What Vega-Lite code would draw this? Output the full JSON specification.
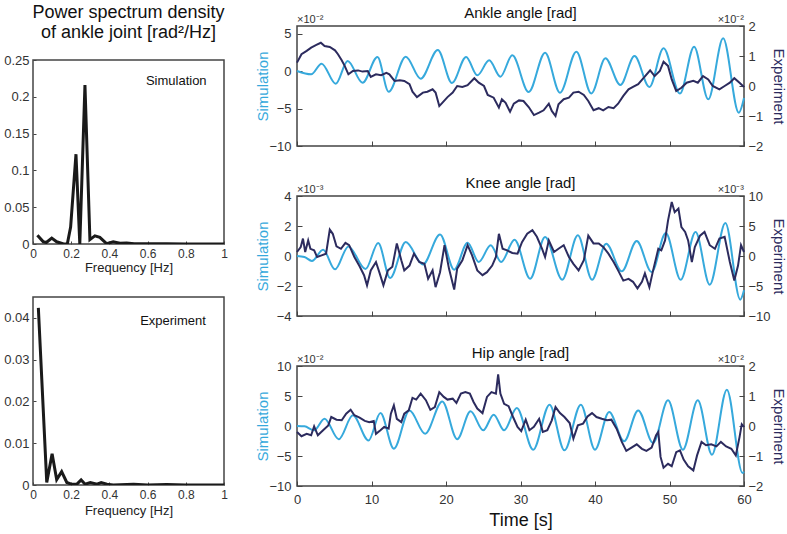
{
  "$schema": "https://vega.github.io/schema/vega-lite/v6.json",
  "padding": {"left": 2, "top": 3, "right": 2, "bottom": 2},
  "background": "white",
  "config": {
    "font": "Liberation Sans",
    "view": {"stroke": "#444444", "strokeWidth": 1.5},
    "axis": {"labelFont": "Liberation Sans", "titleFont": "Liberation Sans", "labelColor": "#333333", "titleColor": "#222222", "tickColor": "#444444", "domain": false, "grid": false, "labelFontSize": 13, "titleFontWeight": "normal", "labelOverlap": false, "labelFlush": false},
    "title": {"font": "Liberation Sans", "fontWeight": "normal", "color": "#111111"},
    "text": {"font": "Liberation Sans"}
  },
  "datasets": {
    "psd_sim": [{"f":0.023,"p":0.012},{"f":0.054,"p":0.003},{"f":0.07,"p":0.002},{"f":0.098,"p":0.008},{"f":0.124,"p":0.003},{"f":0.16,"p":0.0},{"f":0.18,"p":0.0005},{"f":0.197,"p":0.023},{"f":0.225,"p":0.122},{"f":0.245,"p":0.0},{"f":0.272,"p":0.216},{"f":0.298,"p":0.006},{"f":0.324,"p":0.011},{"f":0.35,"p":0.009},{"f":0.385,"p":0.0005},{"f":0.42,"p":0.003},{"f":0.455,"p":0.001},{"f":0.49,"p":0.0015},{"f":0.53,"p":0.0005},{"f":0.6,"p":0.0003},{"f":0.7,"p":0.0002},{"f":0.8,"p":0.0001},{"f":0.9,"p":0.0001},{"f":1.0,"p":0.0}],
    "psd_exp": [{"f":0.028,"p":0.0424},{"f":0.072,"p":0.0006},{"f":0.1,"p":0.0075},{"f":0.124,"p":0.0013},{"f":0.15,"p":0.0032},{"f":0.177,"p":0.0006},{"f":0.2,"p":0.0002},{"f":0.23,"p":0.0002},{"f":0.252,"p":0.0012},{"f":0.273,"p":0.0002},{"f":0.3,"p":0.0006},{"f":0.335,"p":0.0002},{"f":0.357,"p":0.0006},{"f":0.387,"p":0.0002},{"f":0.42,"p":0.0},{"f":0.527,"p":0.0002},{"f":0.6,"p":0.0},{"f":0.7,"p":0.0001},{"f":0.8,"p":0.0},{"f":1.0,"p":0.0}],
    "ankle_sim": [{"t":0,"v":0},{"t":1.9,"v":-0.44},{"t":3.3,"v":0.98},{"t":5.2,"v":-1.7},{"t":6.8,"v":1.33},{"t":8.8,"v":-1.56},{"t":10.8,"v":1.87},{"t":12.3,"v":-2.76},{"t":14.6,"v":1.91},{"t":16.6,"v":-1.02},{"t":18.9,"v":2.8},{"t":20.8,"v":-1.6},{"t":22.7,"v":1.87},{"t":24.2,"v":-0.58},{"t":25.8,"v":1.42},{"t":27.3,"v":-0.76},{"t":28.9,"v":2.09},{"t":31.1,"v":-2.8},{"t":33.3,"v":2.44},{"t":35.3,"v":-2.89},{"t":37.5,"v":2.58},{"t":39.5,"v":-3.0},{"t":41.4,"v":1.69},{"t":43.4,"v":-1.87},{"t":45.3,"v":2.0},{"t":47.3,"v":-2.13},{"t":49.2,"v":3.02},{"t":51.4,"v":-3.0},{"t":53.3,"v":3.24},{"t":55.2,"v":-3.78},{"t":57.2,"v":4.36},{"t":59.3,"v":-5.56},{"t":60,"v":-3.6}],
    "ankle_exp": [{"t":0,"v":0.78},{"t":0.6,"v":1.06},{"t":1.3,"v":1.17},{"t":1.9,"v":1.28},{"t":2.6,"v":1.37},{"t":3.2,"v":1.44},{"t":3.7,"v":1.33},{"t":4.4,"v":1.3},{"t":5.1,"v":1.19},{"t":5.5,"v":1.06},{"t":6.0,"v":0.86},{"t":6.4,"v":0.67},{"t":6.9,"v":0.39},{"t":7.5,"v":0.5},{"t":8.2,"v":0.52},{"t":8.8,"v":0.48},{"t":9.5,"v":0.5},{"t":9.9,"v":0.3},{"t":10.6,"v":0.39},{"t":11.3,"v":0.36},{"t":12.0,"v":0.44},{"t":12.4,"v":0.39},{"t":13.1,"v":0.17},{"t":13.8,"v":0.19},{"t":14.4,"v":0.17},{"t":15.1,"v":0.06},{"t":15.5,"v":-0.19},{"t":16.1,"v":-0.37},{"t":16.9,"v":-0.22},{"t":17.5,"v":-0.19},{"t":18.2,"v":-0.11},{"t":18.6,"v":-0.22},{"t":19.1,"v":-0.67},{"t":19.5,"v":-0.56},{"t":20.2,"v":-0.37},{"t":20.9,"v":-0.22},{"t":21.5,"v":0.0},{"t":22.2,"v":-0.03},{"t":22.9,"v":0.03},{"t":23.8,"v":0.26},{"t":24.4,"v":0.11},{"t":25.1,"v":0.0},{"t":25.6,"v":-0.3},{"t":26.4,"v":-0.39},{"t":27.1,"v":-0.72},{"t":27.5,"v":-0.44},{"t":28.0,"v":-0.56},{"t":28.6,"v":-0.86},{"t":29.1,"v":-0.59},{"t":29.8,"v":-0.48},{"t":30.4,"v":-0.5},{"t":31.1,"v":-0.7},{"t":31.8,"v":-0.97},{"t":32.5,"v":-0.89},{"t":33.1,"v":-0.81},{"t":33.8,"v":-0.59},{"t":34.2,"v":-0.83},{"t":34.7,"v":-1.0},{"t":35.1,"v":-0.61},{"t":35.8,"v":-0.44},{"t":36.5,"v":-0.39},{"t":37.1,"v":-0.22},{"t":37.8,"v":-0.19},{"t":38.5,"v":-0.3},{"t":39.1,"v":-0.5},{"t":39.8,"v":-0.81},{"t":40.5,"v":-0.74},{"t":41.1,"v":-0.81},{"t":41.8,"v":-0.7},{"t":42.5,"v":-0.74},{"t":43.1,"v":-0.59},{"t":43.8,"v":-0.33},{"t":44.5,"v":-0.11},{"t":45.1,"v":-0.03},{"t":45.8,"v":0.06},{"t":46.5,"v":0.26},{"t":47.4,"v":0.52},{"t":48.0,"v":0.33},{"t":48.7,"v":0.5},{"t":49.2,"v":0.81},{"t":49.8,"v":0.67},{"t":50.3,"v":0.22},{"t":50.9,"v":-0.17},{"t":51.6,"v":-0.06},{"t":52.3,"v":0.11},{"t":53.2,"v":0.17},{"t":53.8,"v":0.11},{"t":54.5,"v":0.33},{"t":55.2,"v":0.22},{"t":55.8,"v":0.0},{"t":56.7,"v":-0.11},{"t":57.4,"v":0.0},{"t":58.1,"v":0.11},{"t":58.7,"v":0.26},{"t":59.4,"v":0.11},{"t":60,"v":-0.03}],
    "knee_sim": [{"t":0,"v":0},{"t":1.0,"v":-0.07},{"t":2.0,"v":-0.33},{"t":3.5,"v":0.42},{"t":5.1,"v":-0.89},{"t":6.9,"v":0.64},{"t":9.2,"v":-0.87},{"t":10.9,"v":0.87},{"t":12.5,"v":-1.47},{"t":14.6,"v":0.93},{"t":16.9,"v":-0.56},{"t":19.2,"v":1.44},{"t":21.1,"v":-0.91},{"t":22.9,"v":0.89},{"t":24.4,"v":-0.4},{"t":26.0,"v":0.71},{"t":27.4,"v":-0.4},{"t":29.2,"v":1.09},{"t":31.3,"v":-1.51},{"t":33.3,"v":1.27},{"t":35.6,"v":-1.58},{"t":37.7,"v":1.38},{"t":39.6,"v":-1.58},{"t":41.5,"v":0.82},{"t":43.6,"v":-1.02},{"t":45.6,"v":1.0},{"t":47.6,"v":-1.07},{"t":49.5,"v":1.53},{"t":51.5,"v":-1.58},{"t":53.5,"v":1.6},{"t":55.4,"v":-1.91},{"t":57.5,"v":2.2},{"t":59.5,"v":-2.91},{"t":60,"v":-2.29}],
    "knee_exp": [{"t":0,"v":0.67},{"t":0.5,"v":1.5},{"t":0.8,"v":2.9},{"t":1.1,"v":0.67},{"t":1.5,"v":2.6},{"t":1.8,"v":1.2},{"t":2.3,"v":0.94},{"t":2.7,"v":-0.17},{"t":3.3,"v":0.11},{"t":3.9,"v":0.39},{"t":4.4,"v":4.4},{"t":4.8,"v":3.7},{"t":5.3,"v":1.6},{"t":5.9,"v":1.2},{"t":6.5,"v":2.2},{"t":7.0,"v":1.8},{"t":7.7,"v":-0.17},{"t":8.4,"v":-1.7},{"t":9.0,"v":-3.2},{"t":9.4,"v":-4.9},{"t":9.9,"v":-2.4},{"t":10.6,"v":-1.0},{"t":11.1,"v":-2.9},{"t":11.6,"v":-4.9},{"t":12.2,"v":-2.4},{"t":12.8,"v":-1.8},{"t":13.4,"v":2.1},{"t":14.0,"v":-0.7},{"t":14.4,"v":-2.4},{"t":15.1,"v":-1.6},{"t":15.7,"v":0.39},{"t":16.4,"v":-1.0},{"t":17.1,"v":-1.3},{"t":17.6,"v":-3.8},{"t":18.2,"v":-2.4},{"t":18.6,"v":-5.2},{"t":19.2,"v":-2.7},{"t":19.8,"v":1.8},{"t":20.4,"v":-2.1},{"t":21.1,"v":-5.6},{"t":21.5,"v":-2.1},{"t":22.2,"v":-0.7},{"t":22.9,"v":1.8},{"t":23.5,"v":0.1},{"t":24.2,"v":-2.4},{"t":24.9,"v":-3.2},{"t":25.5,"v":-2.7},{"t":26.2,"v":-1.6},{"t":26.7,"v":-0.17},{"t":27.1,"v":3.7},{"t":27.6,"v":1.2},{"t":28.2,"v":0.94},{"t":28.9,"v":0.5},{"t":29.6,"v":0.39},{"t":30.2,"v":2.3},{"t":30.9,"v":3.7},{"t":31.6,"v":4.3},{"t":32.2,"v":3.2},{"t":32.9,"v":1.2},{"t":33.3,"v":-0.17},{"t":33.8,"v":2.6},{"t":34.5,"v":0.67},{"t":35.1,"v":1.2},{"t":35.8,"v":1.8},{"t":36.5,"v":-0.17},{"t":37.1,"v":-1.3},{"t":37.8,"v":-2.4},{"t":38.5,"v":-0.7},{"t":39.1,"v":3.4},{"t":39.8,"v":2.1},{"t":40.5,"v":2.1},{"t":41.1,"v":1.5},{"t":41.8,"v":0.39},{"t":42.5,"v":-1.0},{"t":43.1,"v":-2.4},{"t":43.8,"v":-4.1},{"t":44.5,"v":-3.8},{"t":45.1,"v":-4.3},{"t":45.7,"v":-5.4},{"t":46.3,"v":-4.3},{"t":46.7,"v":-2.9},{"t":47.3,"v":-5.2},{"t":47.8,"v":-2.4},{"t":48.5,"v":1.2},{"t":48.9,"v":0.94},{"t":49.4,"v":2.6},{"t":49.8,"v":5.9},{"t":50.3,"v":9.0},{"t":50.7,"v":7.3},{"t":51.2,"v":7.9},{"t":51.6,"v":4.8},{"t":52.1,"v":4.0},{"t":52.5,"v":2.6},{"t":53.0,"v":-1.0},{"t":53.4,"v":1.5},{"t":54.1,"v":3.4},{"t":54.7,"v":4.0},{"t":55.4,"v":1.8},{"t":56.1,"v":1.2},{"t":56.7,"v":2.9},{"t":57.4,"v":3.2},{"t":58.1,"v":-1.0},{"t":58.7,"v":-4.1},{"t":59.2,"v":-1.6},{"t":59.6,"v":1.8},{"t":60,"v":0.67}],
    "hip_sim": [{"t":0,"v":0},{"t":1.0,"v":-0.06},{"t":2.3,"v":-0.72},{"t":3.7,"v":1.22},{"t":5.6,"v":-2.2},{"t":7.5,"v":1.78},{"t":9.6,"v":-2.4},{"t":11.2,"v":2.17},{"t":13.0,"v":-3.78},{"t":15.1,"v":2.6},{"t":17.2,"v":-1.28},{"t":19.5,"v":4.1},{"t":21.5,"v":-2.2},{"t":23.3,"v":2.44},{"t":25.0,"v":-0.72},{"t":26.4,"v":1.89},{"t":27.8,"v":-0.72},{"t":29.5,"v":3.0},{"t":31.7,"v":-3.94},{"t":33.9,"v":3.56},{"t":35.9,"v":-4.06},{"t":38.1,"v":3.56},{"t":40.0,"v":-3.94},{"t":41.9,"v":2.33},{"t":43.9,"v":-2.56},{"t":45.8,"v":2.6},{"t":47.8,"v":-2.83},{"t":49.8,"v":4.28},{"t":51.8,"v":-3.94},{"t":53.8,"v":4.28},{"t":55.7,"v":-4.78},{"t":57.7,"v":6.06},{"t":59.8,"v":-7.83},{"t":60,"v":-7.6}],
    "hip_exp": [{"t":0,"v":-0.2},{"t":0.6,"v":-0.34},{"t":1.3,"v":-0.26},{"t":1.9,"v":-0.31},{"t":2.3,"v":-0.01},{"t":2.8,"v":-0.31},{"t":3.5,"v":-0.14},{"t":4.2,"v":0.02},{"t":4.6,"v":0.3},{"t":5.3,"v":0.21},{"t":6.0,"v":0.19},{"t":6.6,"v":0.41},{"t":7.2,"v":0.54},{"t":7.7,"v":0.36},{"t":8.4,"v":0.28},{"t":9.1,"v":0.17},{"t":9.7,"v":0.13},{"t":10.3,"v":0.17},{"t":10.6,"v":-0.26},{"t":11.2,"v":-0.14},{"t":11.7,"v":-0.03},{"t":12.3,"v":-0.09},{"t":12.6,"v":0.41},{"t":13.0,"v":0.69},{"t":13.4,"v":0.24},{"t":14.0,"v":0.13},{"t":14.4,"v":0.41},{"t":15.0,"v":0.52},{"t":15.5,"v":0.94},{"t":16.0,"v":0.88},{"t":16.6,"v":1.08},{"t":17.3,"v":0.86},{"t":17.9,"v":0.54},{"t":18.5,"v":0.63},{"t":19.1,"v":1.13},{"t":19.7,"v":0.97},{"t":20.2,"v":0.88},{"t":20.9,"v":0.91},{"t":21.4,"v":0.77},{"t":22.0,"v":1.08},{"t":22.6,"v":1.13},{"t":23.2,"v":1.08},{"t":23.7,"v":0.8},{"t":24.2,"v":0.58},{"t":24.9,"v":0.43},{"t":25.5,"v":0.97},{"t":26.1,"v":1.13},{"t":26.7,"v":1.08},{"t":27.0,"v":1.72},{"t":27.3,"v":1.08},{"t":27.8,"v":0.74},{"t":28.4,"v":0.66},{"t":29.0,"v":0.3},{"t":29.6,"v":-0.03},{"t":30.1,"v":-0.17},{"t":30.7,"v":0.21},{"t":31.2,"v":-0.14},{"t":31.8,"v":-0.03},{"t":32.5,"v":0.24},{"t":33.0,"v":-0.2},{"t":33.6,"v":-0.14},{"t":34.2,"v":0.19},{"t":34.7,"v":0.63},{"t":35.3,"v":0.43},{"t":35.9,"v":0.3},{"t":36.6,"v":0.1},{"t":37.1,"v":-0.42},{"t":37.7,"v":0.02},{"t":38.4,"v":0.08},{"t":39.0,"v":0.32},{"t":39.6,"v":0.43},{"t":40.2,"v":0.3},{"t":40.9,"v":0.24},{"t":41.6,"v":0.19},{"t":42.2,"v":0.21},{"t":42.9,"v":-0.09},{"t":43.6,"v":-0.53},{"t":44.2,"v":-0.83},{"t":44.9,"v":-0.72},{"t":45.6,"v":-0.61},{"t":46.3,"v":-0.76},{"t":46.9,"v":-0.83},{"t":47.6,"v":-0.72},{"t":48.2,"v":-0.31},{"t":48.5,"v":-0.2},{"t":48.8,"v":-1.03},{"t":49.2,"v":-1.39},{"t":49.8,"v":-1.26},{"t":50.3,"v":-1.34},{"t":50.9,"v":-0.87},{"t":51.4,"v":-0.81},{"t":51.9,"v":-1.12},{"t":52.5,"v":-1.34},{"t":53.2,"v":-1.48},{"t":53.7,"v":-0.98},{"t":54.3,"v":-0.53},{"t":54.9,"v":-0.64},{"t":55.6,"v":-0.61},{"t":56.3,"v":-0.68},{"t":56.9,"v":-0.53},{"t":57.6,"v":-0.68},{"t":58.3,"v":-0.76},{"t":58.9,"v":-0.98},{"t":59.4,"v":-0.37},{"t":59.7,"v":0.06},{"t":60,"v":-0.03}]
  },
  "hconcat": [
    {
      "spacing": 11,
      "vconcat": [
        {
          "width": 191, "height": 1,
          "view": {"stroke": null},
          "data": {"values": [{"label": "title"}]},
          "mark": {"type": "text", "text": ["Power spectrum density", "of ankle joint [rad²/Hz]"], "fontSize": 18, "lineHeight": 20, "align": "center", "baseline": "middle", "dy": -14, "color": "#111111"}
        },
        {
          "spacing": 21,
          "vconcat": [
            {
              "width": 191, "height": 184,
              "layer": [
                {"data": {"name": "psd_sim"}, "mark": {"type": "line", "color": "#1a1a1a", "strokeWidth": 3, "clip": true},
                 "encoding": {
                   "x": {"field": "f", "type": "quantitative", "scale": {"domain": [0, 1], "nice": false}, "axis": {"title": "Frequency [Hz]", "titleFontSize": 13, "values": [0, 0.2, 0.4, 0.6, 0.8, 1], "tickCount": 20, "format": "~g", "labelFontSize": 12, "tickSize": -3, "labelPadding": 7, "titlePadding": 2, "labelOverlap": false}},
                   "y": {"field": "p", "type": "quantitative", "scale": {"domain": [0, 0.25], "nice": false}, "axis": {"title": null, "values": [0, 0.05, 0.1, 0.15, 0.2, 0.25], "tickCount": 20, "format": "~g", "tickSize": -3, "labelPadding": 7, "labelOverlap": false}}
                 }},
                {"data": {"values": [{"label": "Simulation"}]}, "mark": {"type": "text", "fontSize": 13, "color": "#111111"},
                 "encoding": {"x": {"datum": 0.75, "type": "quantitative"}, "y": {"datum": 0.222, "type": "quantitative"}, "text": {"field": "label"}}}
              ]
            },
            {
              "width": 191, "height": 188,
              "layer": [
                {"data": {"name": "psd_exp"}, "mark": {"type": "line", "color": "#1a1a1a", "strokeWidth": 3, "clip": true},
                 "encoding": {
                   "x": {"field": "f", "type": "quantitative", "scale": {"domain": [0, 1], "nice": false}, "axis": {"title": "Frequency [Hz]", "titleFontSize": 13, "values": [0, 0.2, 0.4, 0.6, 0.8, 1], "tickCount": 20, "format": "~g", "labelFontSize": 12, "tickSize": -3, "labelPadding": 7, "titlePadding": 4, "labelOverlap": false}},
                   "y": {"field": "p", "type": "quantitative", "scale": {"domain": [0, 0.045], "nice": false}, "axis": {"title": null, "values": [0, 0.01, 0.02, 0.03, 0.04], "tickCount": 20, "format": "~g", "tickSize": -3, "labelPadding": 7, "labelOverlap": false}}
                 }},
                {"data": {"values": [{"label": "Experiment"}]}, "mark": {"type": "text", "fontSize": 13, "color": "#111111"},
                 "encoding": {"x": {"datum": 0.733, "type": "quantitative"}, "y": {"datum": 0.0393, "type": "quantitative"}, "text": {"field": "label"}}}
              ]
            }
          ]
        }
      ]
    },
    {
      "spacing": 21,
      "vconcat": [
        {
          "width": 447, "height": 120,
          "title": {"text": "Ankle angle [rad]", "fontSize": 15, "frame": "group", "offset": -7},
          "layer": [
            {"layer": [
              {"data": {"name": "ankle_sim"}, "mark": {"type": "line", "color": "#36a9dc", "strokeWidth": 2, "interpolate": "monotone"},
               "encoding": {
                 "x": {"field": "t", "type": "quantitative", "scale": {"domain": [0, 60], "nice": false}, "axis": {"title": null, "labels": false, "values": [0, 10, 20, 30, 40, 50, 60], "tickCount": 20, "format": "d", "tickSize": -5}},
                 "y": {"field": "v", "type": "quantitative", "scale": {"domain": [-10, 6], "nice": false}, "axis": {"title": "Simulation", "titleColor": "#36a9dc", "titleFontSize": 15, "values": [-10, -5, 0, 5], "tickCount": 20, "format": "d", "tickSize": -5, "labelPadding": 11, "minExtent": 24, "maxExtent": 24, "titlePadding": 3, "labelOverlap": false}}
               }},
              {"data": {"values": [{"label": "×10⁻²"}]}, "mark": {"type": "text", "fontSize": 11, "color": "#333333", "align": "left", "baseline": "alphabetic", "dy": -3},
               "encoding": {"x": {"datum": 0, "type": "quantitative"}, "y": {"datum": 6, "type": "quantitative"}, "text": {"field": "label"}}}
            ]},
            {"layer": [
              {"data": {"name": "ankle_exp"}, "mark": {"type": "line", "color": "#2c2b5e", "strokeWidth": 2},
               "encoding": {
                 "x": {"field": "t", "type": "quantitative"},
                 "y": {"field": "v", "type": "quantitative", "scale": {"domain": [-2, 2], "nice": false}, "axis": {"orient": "right", "title": "Experiment", "titleColor": "#2c2b5e", "titleFontSize": 15, "values": [-2, -1, 0, 1, 2], "tickCount": 20, "format": "d", "tickSize": -5, "labelPadding": 9, "minExtent": 24, "maxExtent": 24, "titlePadding": 2, "labelOverlap": false}}
               }},
              {"data": {"values": [{"label": "×10⁻²"}]}, "mark": {"type": "text", "fontSize": 11, "color": "#333333", "align": "right", "baseline": "alphabetic", "dy": -3},
               "encoding": {"x": {"datum": 60, "type": "quantitative"}, "y": {"datum": 2, "type": "quantitative"}, "text": {"field": "label"}}}
            ]}
          ],
          "resolve": {"scale": {"y": "independent"}}
        },
        {
          "width": 447, "height": 120,
          "title": {"text": "Knee angle [rad]", "fontSize": 15, "frame": "group", "offset": -7},
          "layer": [
            {"layer": [
              {"data": {"name": "knee_sim"}, "mark": {"type": "line", "color": "#36a9dc", "strokeWidth": 2, "interpolate": "monotone"},
               "encoding": {
                 "x": {"field": "t", "type": "quantitative", "scale": {"domain": [0, 60], "nice": false}, "axis": {"title": null, "labels": false, "values": [0, 10, 20, 30, 40, 50, 60], "tickCount": 20, "format": "d", "tickSize": -5}},
                 "y": {"field": "v", "type": "quantitative", "scale": {"domain": [-4, 4], "nice": false}, "axis": {"title": "Simulation", "titleColor": "#36a9dc", "titleFontSize": 15, "values": [-4, -2, 0, 2, 4], "tickCount": 20, "format": "d", "tickSize": -5, "labelPadding": 11, "minExtent": 24, "maxExtent": 24, "titlePadding": 3, "labelOverlap": false}}
               }},
              {"data": {"values": [{"label": "×10⁻³"}]}, "mark": {"type": "text", "fontSize": 11, "color": "#333333", "align": "left", "baseline": "alphabetic", "dy": -3},
               "encoding": {"x": {"datum": 0, "type": "quantitative"}, "y": {"datum": 4, "type": "quantitative"}, "text": {"field": "label"}}}
            ]},
            {"layer": [
              {"data": {"name": "knee_exp"}, "mark": {"type": "line", "color": "#2c2b5e", "strokeWidth": 2},
               "encoding": {
                 "x": {"field": "t", "type": "quantitative"},
                 "y": {"field": "v", "type": "quantitative", "scale": {"domain": [-10, 10], "nice": false}, "axis": {"orient": "right", "title": "Experiment", "titleColor": "#2c2b5e", "titleFontSize": 15, "values": [-10, -5, 0, 5, 10], "tickCount": 20, "format": "d", "tickSize": -5, "labelPadding": 9, "minExtent": 24, "maxExtent": 24, "titlePadding": 2, "labelOverlap": false}}
               }},
              {"data": {"values": [{"label": "×10⁻³"}]}, "mark": {"type": "text", "fontSize": 11, "color": "#333333", "align": "right", "baseline": "alphabetic", "dy": -3},
               "encoding": {"x": {"datum": 60, "type": "quantitative"}, "y": {"datum": 10, "type": "quantitative"}, "text": {"field": "label"}}}
            ]}
          ],
          "resolve": {"scale": {"y": "independent"}}
        },
        {
          "width": 447, "height": 120,
          "title": {"text": "Hip angle [rad]", "fontSize": 15, "frame": "group", "offset": -7},
          "layer": [
            {"layer": [
              {"data": {"name": "hip_sim"}, "mark": {"type": "line", "color": "#36a9dc", "strokeWidth": 2, "interpolate": "monotone"},
               "encoding": {
                 "x": {"field": "t", "type": "quantitative", "scale": {"domain": [0, 60], "nice": false}, "axis": {"title": "Time [s]", "titleFontSize": 18, "titleColor": "#111111", "values": [0, 10, 20, 30, 40, 50, 60], "tickCount": 20, "format": "d", "tickSize": -5, "labelPadding": 12, "titlePadding": 5, "labelOverlap": false}},
                 "y": {"field": "v", "type": "quantitative", "scale": {"domain": [-10, 10], "nice": false}, "axis": {"title": "Simulation", "titleColor": "#36a9dc", "titleFontSize": 15, "values": [-10, -5, 0, 5, 10], "tickCount": 20, "format": "d", "tickSize": -5, "labelPadding": 11, "minExtent": 24, "maxExtent": 24, "titlePadding": 3, "labelOverlap": false}}
               }},
              {"data": {"values": [{"label": "×10⁻²"}]}, "mark": {"type": "text", "fontSize": 11, "color": "#333333", "align": "left", "baseline": "alphabetic", "dy": -3},
               "encoding": {"x": {"datum": 0, "type": "quantitative"}, "y": {"datum": 10, "type": "quantitative"}, "text": {"field": "label"}}}
            ]},
            {"layer": [
              {"data": {"name": "hip_exp"}, "mark": {"type": "line", "color": "#2c2b5e", "strokeWidth": 2},
               "encoding": {
                 "x": {"field": "t", "type": "quantitative"},
                 "y": {"field": "v", "type": "quantitative", "scale": {"domain": [-2, 2], "nice": false}, "axis": {"orient": "right", "title": "Experiment", "titleColor": "#2c2b5e", "titleFontSize": 15, "values": [-2, -1, 0, 1, 2], "tickCount": 20, "format": "d", "tickSize": -5, "labelPadding": 9, "minExtent": 24, "maxExtent": 24, "titlePadding": 2, "labelOverlap": false}}
               }},
              {"data": {"values": [{"label": "×10⁻²"}]}, "mark": {"type": "text", "fontSize": 11, "color": "#333333", "align": "right", "baseline": "alphabetic", "dy": -3},
               "encoding": {"x": {"datum": 60, "type": "quantitative"}, "y": {"datum": 2, "type": "quantitative"}, "text": {"field": "label"}}}
            ]}
          ],
          "resolve": {"scale": {"y": "independent"}}
        }
      ]
    }
  ],
  "spacing": 25
}
